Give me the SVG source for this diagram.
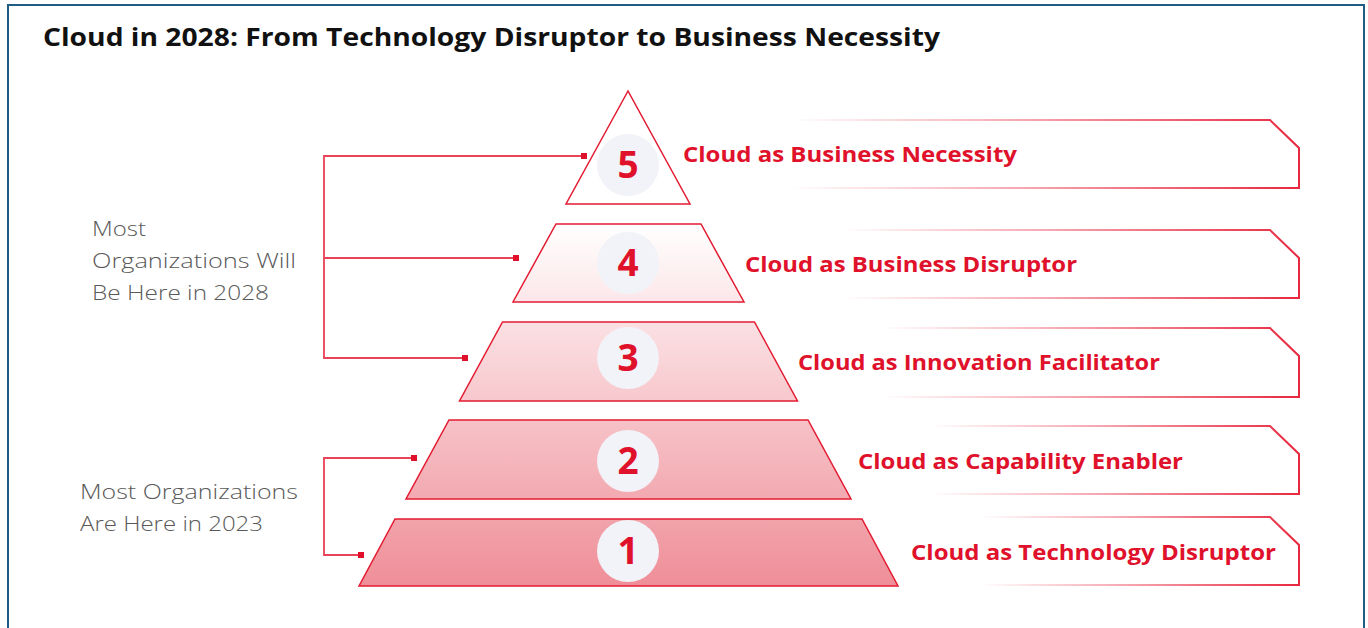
<svg xmlns="http://www.w3.org/2000/svg" width="1368" height="628" viewBox="0 0 1368 628">
<defs>
<linearGradient id="pyr" gradientUnits="userSpaceOnUse" x1="0" y1="224" x2="0" y2="586">
<stop offset="0" stop-color="#ffffff"/>
<stop offset="1" stop-color="#ef8e98"/>
</linearGradient>
<linearGradient id="fade" x1="0" y1="0" x2="1" y2="0">
<stop offset="0" stop-color="#e8283f" stop-opacity="0"/>
<stop offset="0.5" stop-color="#e8283f" stop-opacity="0.45"/>
<stop offset="1" stop-color="#e8283f" stop-opacity="1"/>
</linearGradient>
<style>
.layer{stroke:#e31b32;stroke-width:1.5;stroke-linejoin:miter}
.circ{fill:#f2f3f8}
.num{font-family:"Open Sans","Liberation Sans",sans-serif;font-weight:700;font-size:37px;fill:#e0112b;text-anchor:middle}
.lbl{font-family:"Open Sans","Liberation Sans",sans-serif;font-weight:700;font-size:21px;fill:#e0112b}
.banner{fill:none;stroke:url(#fade);stroke-width:2}
.side{font-family:"Open Sans","Liberation Sans",sans-serif;font-weight:300;font-size:21px;fill:#595959}
.conn{fill:none;stroke:#ea4257;stroke-width:1.8}
.dot{fill:#e0102a}
</style>
</defs>
<rect x="8" y="5" width="1356" height="640" fill="#ffffff" stroke="#1f5d84" stroke-width="2"/>
<g id="title">
<text x="43" y="46" font-family="'Open Sans','Liberation Sans',sans-serif" font-weight="700" font-size="25" fill="#111111" textLength="897" lengthAdjust="spacingAndGlyphs">Cloud in 2028: From Technology Disruptor to Business Necessity</text>
</g>
<g id="side-2028">
<text class="side" x="92" y="236" textLength="54" lengthAdjust="spacingAndGlyphs">Most</text>
<text class="side" x="92" y="268" textLength="204" lengthAdjust="spacingAndGlyphs">Organizations Will</text>
<text class="side" x="92" y="300" textLength="177" lengthAdjust="spacingAndGlyphs">Be Here in 2028</text>
</g>
<g id="side-2023">
<text class="side" x="80" y="499" textLength="218" lengthAdjust="spacingAndGlyphs">Most Organizations</text>
<text class="side" x="80" y="531" textLength="183" lengthAdjust="spacingAndGlyphs">Are Here in 2023</text>
</g>
<g id="connectors">
<path class="conn" d="M584 156 H324 V358 H465 M324 258 H516"/>
<path class="conn" d="M414 458 H324 V555 H361"/>
<rect class="dot" x="581" y="153" width="6" height="6"/>
<rect class="dot" x="513" y="255" width="6" height="6"/>
<rect class="dot" x="462" y="355" width="6" height="6"/>
<rect class="dot" x="411" y="455" width="6" height="6"/>
<rect class="dot" x="358" y="552" width="6" height="6"/>
</g>
<g id="level5">
<polygon class="layer" points="628,91 566,204 690,204" fill="#ffffff"/>
<circle class="circ" cx="628" cy="165" r="31"/>
<text class="num" x="628" y="178">5</text>
<path class="banner" d="M790 120 H1270 L1299 148 V188 H790"/>
<text class="lbl" x="683" y="162" textLength="334" lengthAdjust="spacingAndGlyphs">Cloud as Business Necessity</text>
</g>
<g id="level4">
<polygon class="layer" points="556,224 701,224 744,302 513,302" fill="url(#pyr)"/>
<circle class="circ" cx="628" cy="263" r="31"/>
<text class="num" x="628" y="276">4</text>
<path class="banner" d="M840 230 H1270 L1299 258 V298 H840"/>
<text class="lbl" x="745" y="272" textLength="332" lengthAdjust="spacingAndGlyphs">Cloud as Business Disruptor</text>
</g>
<g id="level3">
<polygon class="layer" points="502.5,322 754.5,322 797.5,401 459.5,401" fill="url(#pyr)"/>
<circle class="circ" cx="628" cy="358" r="31"/>
<text class="num" x="628" y="371">3</text>
<path class="banner" d="M880 328 H1270 L1299 356 V397 H880"/>
<text class="lbl" x="798" y="370" textLength="362" lengthAdjust="spacingAndGlyphs">Cloud as Innovation Facilitator</text>
</g>
<g id="level2">
<polygon class="layer" points="449,420 808,420 851,499 406,499" fill="url(#pyr)"/>
<circle class="circ" cx="628" cy="461" r="31"/>
<text class="num" x="628" y="474">2</text>
<path class="banner" d="M930 426 H1270 L1299 454 V494 H930"/>
<text class="lbl" x="858" y="469" textLength="325" lengthAdjust="spacingAndGlyphs">Cloud as Capability Enabler</text>
</g>
<g id="level1">
<polygon class="layer" points="395,519 862,519 898,586 359,586" fill="url(#pyr)"/>
<circle class="circ" cx="628" cy="551" r="31"/>
<text class="num" x="628" y="564">1</text>
<path class="banner" d="M980 517 H1270 L1299 545 V585 H980"/>
<text class="lbl" x="911" y="560" textLength="365" lengthAdjust="spacingAndGlyphs">Cloud as Technology Disruptor</text>
</g>
</svg>
